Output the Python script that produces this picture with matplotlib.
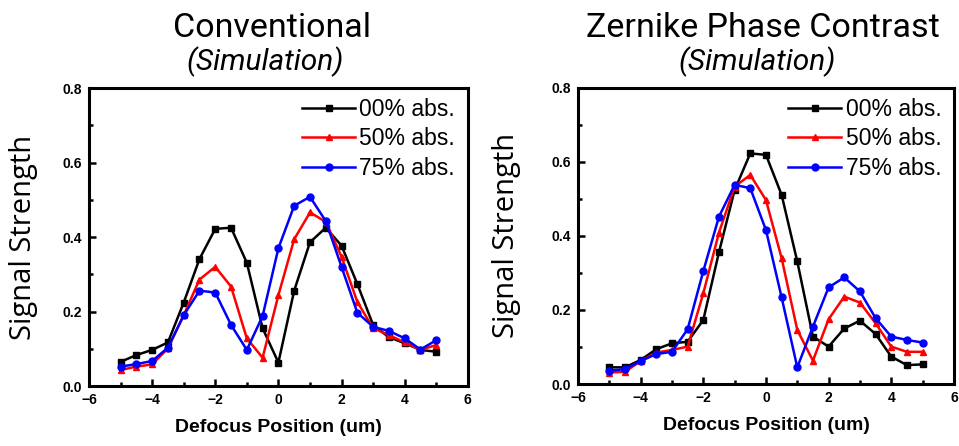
import matplotlib
matplotlib.use("Agg")
import matplotlib.pyplot as plt
from matplotlib.ticker import MultipleLocator, FormatStrFormatter

# defocus positions (um)
x_pos = [-5, -4.5, -4, -3.5, -3, -2.5, -2, -1.5, -1, -0.5, 0,
         0.5, 1, 1.5, 2, 2.5, 3, 3.5, 4, 4.5, 5]

# conventional simulation
conv_00 = [0.065, 0.083, 0.097, 0.117, 0.224, 0.341, 0.422, 0.425, 0.331, 0.155, 0.063,
           0.256, 0.386, 0.425, 0.377, 0.274, 0.164, 0.131, 0.115, 0.097, 0.092]
conv_50 = [0.043, 0.052, 0.058, 0.101, 0.190, 0.286, 0.320, 0.267, 0.128, 0.076, 0.244,
           0.394, 0.466, 0.441, 0.347, 0.226, 0.155, 0.137, 0.117, 0.097, 0.110]
conv_75 = [0.052, 0.059, 0.067, 0.103, 0.190, 0.256, 0.251, 0.164, 0.097, 0.188, 0.370,
           0.484, 0.508, 0.443, 0.320, 0.197, 0.159, 0.148, 0.128, 0.098, 0.123]

# zernike phase contrast simulation
zpc_00 = [0.045, 0.045, 0.065, 0.094, 0.110, 0.114, 0.173, 0.356, 0.524, 0.623, 0.619,
          0.511, 0.331, 0.128, 0.101, 0.150, 0.171, 0.135, 0.074, 0.051, 0.053]
zpc_50 = [0.031, 0.033, 0.062, 0.085, 0.092, 0.101, 0.245, 0.409, 0.533, 0.565, 0.497,
          0.340, 0.146, 0.063, 0.175, 0.236, 0.220, 0.164, 0.101, 0.087, 0.087]
zpc_75 = [0.036, 0.040, 0.062, 0.081, 0.087, 0.148, 0.305, 0.452, 0.538, 0.529, 0.416,
          0.234, 0.045, 0.155, 0.261, 0.288, 0.250, 0.178, 0.128, 0.119, 0.112]

labels = ['00% abs.', '50% abs.', '75% abs.']
colors = ['#000000', '#ff0000', '#0000ff']
markers = ['s', '^', 'o']

fig = plt.figure(figsize=(9.59, 4.46), dpi=100)

def draw_panel(ax, series, ylabel_pad):
    for ys, lab, c, m in zip(series, labels, colors, markers):
        ax.plot(x_pos, ys, color=c, marker=m, markersize=5, linewidth=1.8, label=lab)
    ax.set_xlim(-6, 6)
    ax.set_ylim(0, 0.8)
    ax.xaxis.set_major_locator(MultipleLocator(2))
    ax.xaxis.set_minor_locator(MultipleLocator(1))
    ax.yaxis.set_major_locator(MultipleLocator(0.2))
    ax.yaxis.set_minor_locator(MultipleLocator(0.1))
    ax.yaxis.set_major_formatter(FormatStrFormatter('%.1f'))
    ax.tick_params(which='both', direction='in', width=1.8, top=False, right=False)
    ax.tick_params(which='major', length=5, pad=5)
    ax.tick_params(which='minor', length=3)
    for lbl in ax.get_xticklabels() + ax.get_yticklabels():
        lbl.set_fontfamily('Liberation Sans')
        lbl.set_fontweight('bold')
        lbl.set_fontsize(10)
    for sp in ax.spines.values():
        sp.set_linewidth(2.2)
    ax.set_xlabel('Defocus Position (um)', fontfamily='Liberation Sans',
                  fontweight='bold', fontsize=14, labelpad=9)
    ax.set_ylabel('Signal Strength', fontfamily='Open Sans', fontsize=21, labelpad=ylabel_pad)
    ax.legend(loc='upper right', bbox_to_anchor=(0.985, 0.99), frameon=False,
              prop={'family': 'Liberation Sans', 'size': 16.5},
              handlelength=2.3, handletextpad=0.2, labelspacing=0.28,
              borderaxespad=0.1, borderpad=0.2)

ax1 = fig.add_axes([0.0928, 0.1345, 0.395, 0.668])
draw_panel(ax1, [conv_00, conv_50, conv_75], 18)

ax2 = fig.add_axes([0.6027, 0.139, 0.392, 0.664])
draw_panel(ax2, [zpc_00, zpc_50, zpc_75], 22)

# titles
fig.text(272 / 959, 1 - 28 / 446, 'Conventional', ha='center', va='center',
         fontfamily='Roboto', fontsize=24.5)
fig.text(265 / 959, 1 - 62 / 446, '(Simulation)', ha='center', va='center',
         fontfamily='Roboto', fontstyle='italic', fontsize=21.5)
fig.text(763 / 959, 1 - 28 / 446, 'Zernike Phase Contrast', ha='center', va='center',
         fontfamily='Roboto', fontsize=24.5)
fig.text(757 / 959, 1 - 62 / 446, '(Simulation)', ha='center', va='center',
         fontfamily='Roboto', fontstyle='italic', fontsize=21.5)

fig.savefig('out.png', dpi=100)
